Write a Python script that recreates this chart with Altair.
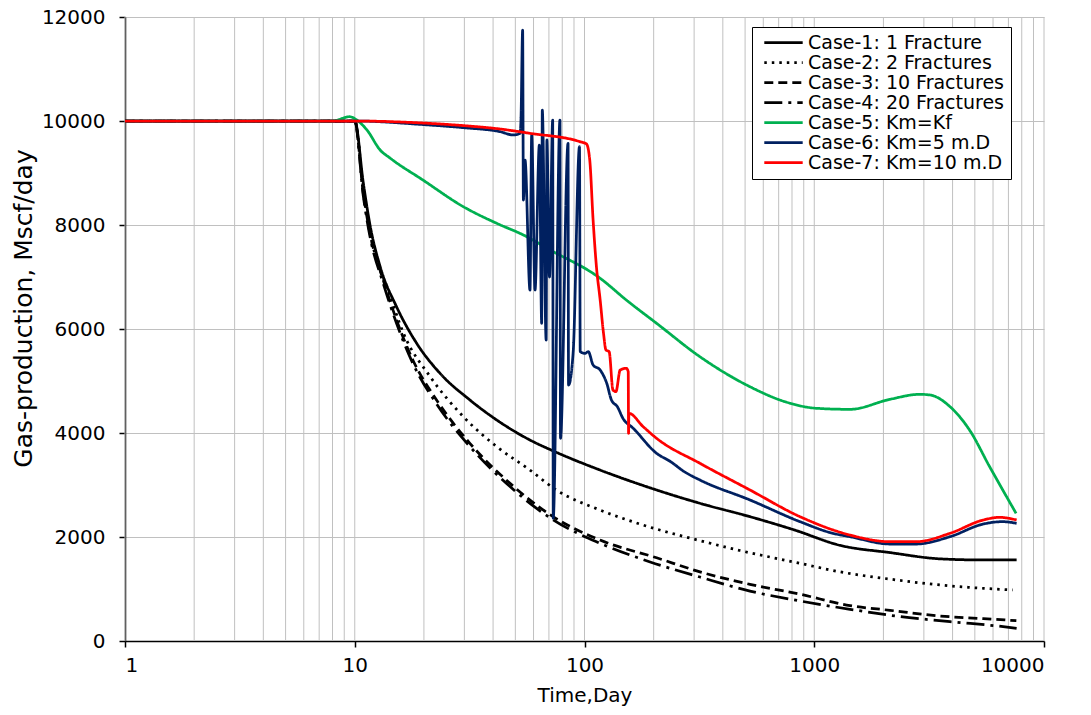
import altair as alt
import pandas as pd

# ---------------- data ----------------
case_names = [
    "Case-1: 1 Fracture",
    "Case-2: 2 Fractures",
    "Case-3: 10 Fractures",
    "Case-4: 20 Fractures",
    "Case-5: Km=Kf",
    "Case-6: Km=5 m.D",
    "Case-7: Km=10 m.D",
]

c1_t = [1, 10, 10.9, 11.65, 12.9, 15.2, 18.6, 23.5, 31.7, 41.5, 57.9, 74.4, 116.8, 206, 318, 525, 820, 1294, 2136, 3525, 5443, 7600]
c1_q = [10000, 10000, 8802, 8000, 7198, 6429, 5725, 5148, 4635, 4250, 3865, 3640, 3288, 2904, 2648, 2391, 2135, 1840, 1700, 1580, 1558, 1558]

c2_t = [1, 10, 10.9, 11.65, 12.46, 13.8, 16.3, 21.3, 29.7, 41.5, 57.9, 74.4, 116.8, 174, 318, 475, 867, 1294, 2136, 3525, 5443, 7300]
c2_q = [10000, 10000, 8700, 7850, 7327, 6813, 5917, 5083, 4314, 3737, 3288, 2920, 2519, 2250, 1930, 1740, 1494, 1330, 1190, 1077, 1013, 981]

c3_t = [1, 10, 10.9, 11.65, 13.3, 15.2, 17.9, 22.7, 31.7, 47.4, 73, 116.8, 206, 318, 525, 867, 1431, 2136, 3525, 5443, 7580]
c3_q = [10000, 10000, 8600, 7840, 6942, 6173, 5404, 4635, 3802, 3032, 2391, 1942, 1600, 1330, 1090, 900, 680, 590, 481, 430, 391]

c4_t = [1, 10, 10.9, 11.65, 13.3, 15.2, 17.9, 22.7, 31.7, 47.4, 73, 116.8, 193, 318, 525, 867, 1431, 2360, 3900, 6640, 7600]
c4_q = [10000, 10000, 8550, 7780, 6880, 6110, 5340, 4560, 3740, 2970, 2330, 1880, 1520, 1230, 960, 770, 610, 470, 372, 276, 244]

c5_t = [1, 8, 9.5, 10.2, 11.3, 12.9, 14.3, 19.8, 29.7, 41.5, 54.2, 71, 117, 152, 206, 318, 525, 746, 1024, 1431, 2136, 2880, 3190, 3900, 4740, 5800, 7560]
c5_q = [10000, 10000, 10083, 10019, 9827, 9442, 9282, 8865, 8352, 8032, 7808, 7519, 6975, 6558, 6109, 5467, 4890, 4602, 4475, 4455, 4648, 4744, 4731, 4506, 4058, 3352, 2455]

c6_t = [1, 10, 20, 30, 42.9, 49, 52.4, 52.9, 53.8, 54.2, 55.1, 57.9, 58.9, 60.9, 63.6, 65.1, 65.5, 68.1, 68.6, 70.4, 72.7, 73.1, 78.2, 78.6, 84.8, 85.2, 89.3, 95.1, 95.8, 100.5, 103.9, 109, 117, 125, 131, 139, 147, 163, 206, 237, 272, 318, 525, 867, 1205, 1431, 2136, 2775, 3900, 5443, 6600, 7600]
c6_q = [10000, 10000, 9930, 9870, 9795, 9731, 9763, 10019, 11750, 8480, 9250, 6750, 9731, 6750, 9538, 6109, 10211, 5788, 9635, 7000, 10019, 2360, 10019, 3898, 9570, 4923, 5564, 9506, 5564, 5532, 5564, 5308, 5211, 4955, 4635, 4506, 4282, 4090, 3609, 3449, 3256, 3096, 2712, 2295, 2071, 2006, 1865, 1865, 2006, 2250, 2295, 2263]

c7_t = [1, 10, 20, 30, 42.9, 57.9, 95.4, 102, 105.4, 109, 112.7, 117, 121, 124, 128, 133, 137, 143, 152, 155, 155.5, 156, 180, 206, 318, 525, 867, 1431, 2136, 2775, 3900, 5443, 6400, 7600]
c7_q = [10000, 10000, 9960, 9910, 9846, 9763, 9603, 9558, 9250, 8096, 7198, 6558, 5917, 5596, 5564, 4827, 4795, 5211, 5244, 5180, 3994, 4378, 4122, 3898, 3417, 2904, 2391, 2038, 1910, 1910, 2071, 2327, 2378, 2327]

series = [(c1_t, c1_q), (c2_t, c2_q), (c3_t, c3_q), (c4_t, c4_q),
          (c5_t, c5_q), (c6_t, c6_q), (c7_t, c7_q)]

colors = ["#000000", "#000000", "#000000", "#000000", "#00B050", "#002060", "#FF0000"]
dashes = [[1, 0], [2.5, 5], [9, 5], [18, 6, 3, 6], [1, 0], [1, 0], [1, 0]]

x_ticks = [1, 10, 100, 1000, 10000]
x_grid = [m * d for d in [1, 10, 100, 1000] for m in range(1, 10)] + [10000]
y_ticks = [0, 2000, 4000, 6000, 8000, 10000, 12000]

rows = []
for ci, (ts, qs) in enumerate(series):
    for k, (t, q) in enumerate(zip(ts, qs)):
        rows.append({"t": t, "q": q, "case": case_names[ci], "ci": ci, "k": k})
df = pd.DataFrame(rows)
grid_df = pd.DataFrame({"g": x_grid})

FONT = "DejaVu Sans"

xscale = alt.Scale(type="log", domain=[1, 10000])
yscale = alt.Scale(domain=[0, 12000])

x_axis = alt.Axis(values=x_ticks, format="d", title="Time,Day",
                  grid=False, tickSize=6, labelPadding=8,
                  titleY=60, titleBaseline="alphabetic", titleFontSize=20)

grid = alt.Chart(grid_df).mark_rule(color="#c0c0c0", strokeWidth=1).encode(
    x=alt.X("g:Q", scale=xscale, axis=x_axis)
)

lines = alt.Chart(df).mark_line(strokeWidth=2.75, clip=True, interpolate="monotone").encode(
    x=alt.X("t:Q", scale=xscale, axis=x_axis),
    y=alt.Y("q:Q", scale=yscale,
            axis=alt.Axis(values=y_ticks, format="d", title="Gas-production, Mscf/day",
                          grid=True, gridColor="#c0c0c0", tickSize=6,
                          labelPadding=14, titleX=-102, titleY=291,
                          titleBaseline="middle", titleFontSize=25)),
    color=alt.Color("case:N", scale=alt.Scale(domain=case_names, range=colors),
                    legend=alt.Legend(title=None, orient="none", legendX=627, legendY=10,
                                      symbolType="M-2.4,0H2.4", symbolSize=256,
                                      symbolOffset=16, labelOffset=15,
                                      symbolStrokeWidth=2.75, labelFontSize=19,
                                      labelFont=FONT, fillColor="white",
                                      strokeColor="black", padding=6,
                                      rowPadding=0, labelLimit=400)),
    strokeDash=alt.StrokeDash("case:N", scale=alt.Scale(domain=case_names, range=dashes),
                              legend=alt.Legend(title=None)),
    detail="ci:N",
    order="k:Q",
)

chart = alt.layer(grid, lines).properties(
    width=919, height=624,
    autosize=alt.AutoSizeParams(type="none"),
    padding={"left": 125, "top": 17, "right": 47, "bottom": 74},
).configure_view(stroke=None).configure_axis(
    domainColor="black", domainWidth=1.5, tickColor="black", tickWidth=1.5,
    labelFont=FONT, labelFontSize=20, labelColor="black",
    titleFont=FONT, titleFontWeight="normal", titleColor="black",
)

chart.save("out.html", embed_options={"renderer": "svg", "actions": False})
